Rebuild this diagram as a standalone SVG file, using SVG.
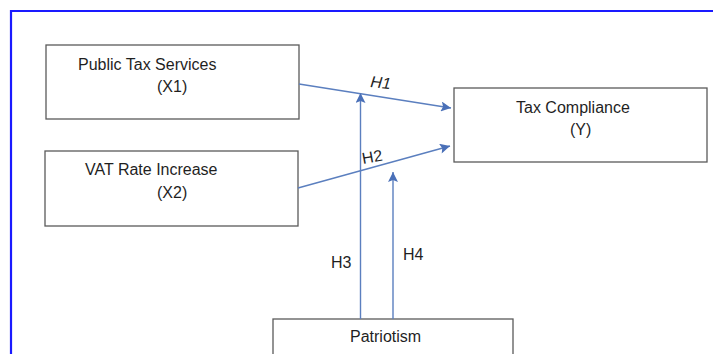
<svg xmlns="http://www.w3.org/2000/svg" width="713" height="354" viewBox="0 0 713 354">
  <style>
    .box { fill: #ffffff; stroke: #5a5a5a; stroke-width: 1.3; }
    .t { font-family: "Liberation Sans", Arial, sans-serif; font-size: 16px; fill: #1f1f1f; }
    .conn { stroke: #5b7fbf; stroke-width: 1.4; fill: none; marker-end: url(#arrow); }
  </style>
  <defs>
    <marker id="arrow" viewBox="0 0 10 10" refX="10" refY="5" markerWidth="13" markerHeight="10" markerUnits="userSpaceOnUse" orient="auto">
      <path d="M0,0 L10,5 L0,10 L2,5 Z" fill="#4a70b8"/>
    </marker>
  </defs>
  <rect width="713" height="354" fill="#ffffff"/>
  <path d="M11,354 V11 H713" fill="none" stroke="#1a1aff" stroke-width="2.2"/>

  <g id="x1">
    <rect class="box" x="46" y="45" width="253" height="74"/>
    <text class="t" x="78" y="70">Public Tax Services</text>
    <text class="t" x="157" y="92">(X1)</text>
  </g>
  <g id="x2">
    <rect class="box" x="45" y="151" width="253" height="75"/>
    <text class="t" x="85" y="175">VAT Rate Increase</text>
    <text class="t" x="157" y="198">(X2)</text>
  </g>
  <g id="y">
    <rect class="box" x="454" y="88" width="253" height="74"/>
    <text class="t" x="516" y="113">Tax Compliance</text>
    <text class="t" x="570" y="135">(Y)</text>
  </g>
  <g id="patriotism">
    <rect class="box" x="273" y="319" width="240" height="45"/>
    <text class="t" x="350" y="342">Patriotism</text>
  </g>

  <g id="connectors">
    <line class="conn" x1="299" y1="84" x2="451" y2="108"/>
    <line class="conn" x1="298" y1="188" x2="450" y2="146"/>
    <line class="conn" x1="360.5" y1="319" x2="360.5" y2="93"/>
    <line class="conn" x1="393" y1="319" x2="393" y2="172"/>
    <text class="t" x="370" y="87" font-size="17" font-style="italic" transform="rotate(6 370 87)">H1</text>
    <text class="t" x="363" y="164" transform="rotate(-10 363 164)">H2</text>
    <text class="t" x="331" y="268">H3</text>
    <text class="t" x="403" y="260">H4</text>
  </g>
</svg>
